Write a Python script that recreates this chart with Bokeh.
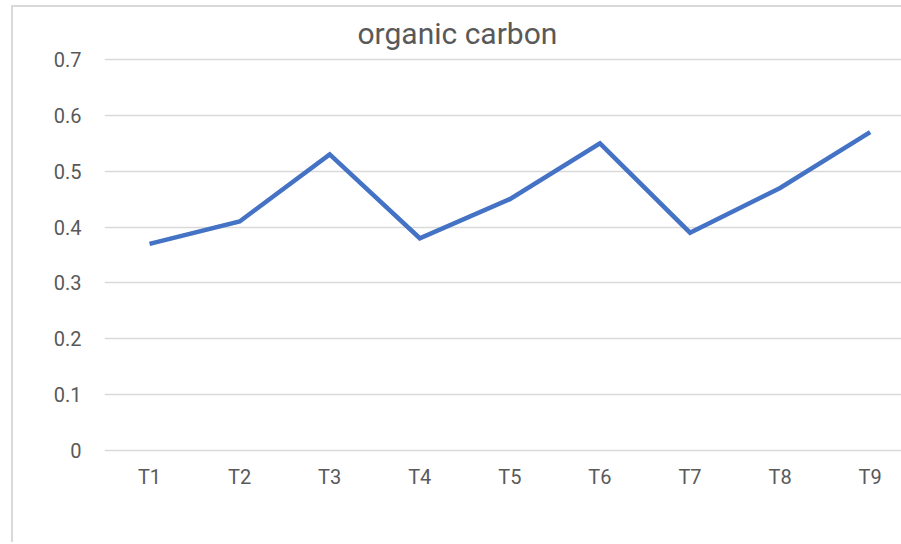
from bokeh.plotting import figure
from bokeh.models import Range1d, FixedTicker, ColumnDataSource
from bokeh.embed import file_html
from bokeh.resources import INLINE

categories = ["T1", "T2", "T3", "T4", "T5", "T6", "T7", "T8", "T9"]
organic_carbon = [0.37, 0.41, 0.53, 0.38, 0.45, 0.55, 0.39, 0.47, 0.57]
y_ticks = [0, 0.1, 0.2, 0.3, 0.4, 0.5, 0.6, 0.7]
y_labels = ["0", "0.1", "0.2", "0.3", "0.4", "0.5", "0.6", "0.7"]

xpos = [i + 0.5 for i in range(len(categories))]
src = ColumnDataSource(dict(x=xpos, y=organic_carbon))

FONT = "Roboto"
GREY = "#595959"

p = figure(width=890, height=537, output_backend="svg", toolbar_location=None,
           x_range=Range1d(0, 8.87), y_range=Range1d(-0.0036, 0.7036),
           min_border_left=91, min_border_right=0, min_border_top=49, min_border_bottom=92,
           title="organic carbon")
p.styles = {"margin-left": "11px", "margin-top": "5px",
            "border-left": "2px solid #d9d9d9", "border-top": "2px solid #d9d9d9"}

p.title.text_font = FONT
p.title.text_font_size = "30px"
p.title.text_font_style = "normal"
p.title.text_color = GREY
p.title.align = "left"
p.title.offset = 253
p.title.standoff = 13

p.line("x", "y", source=src, line_color="#4472C4", line_width=4.5, line_join="miter")

p.outline_line_color = None
p.background_fill_color = "white"
p.border_fill_color = "white"

p.xaxis.ticker = FixedTicker(ticks=xpos)
p.xaxis.major_label_overrides = {x: c for x, c in zip(xpos, categories)}
p.yaxis.ticker = FixedTicker(ticks=y_ticks)
p.yaxis.major_label_overrides = {t: l for t, l in zip(y_ticks, y_labels)}

for ax in (p.xaxis, p.yaxis):
    ax.axis_line_color = None
    ax.major_tick_line_color = None
    ax.minor_tick_line_color = None
    ax.major_label_text_font = FONT
    ax.major_label_text_font_size = "20px"
    ax.major_label_text_color = GREY
p.xaxis.major_label_standoff = 6
p.yaxis.major_label_standoff = 17

p.xgrid.grid_line_color = None
p.ygrid.grid_line_color = "#d9d9d9"
p.ygrid.grid_line_width = 1.3
p.ygrid.ticker = FixedTicker(ticks=y_ticks)

open("out.html", "w").write(file_html(p, INLINE))
